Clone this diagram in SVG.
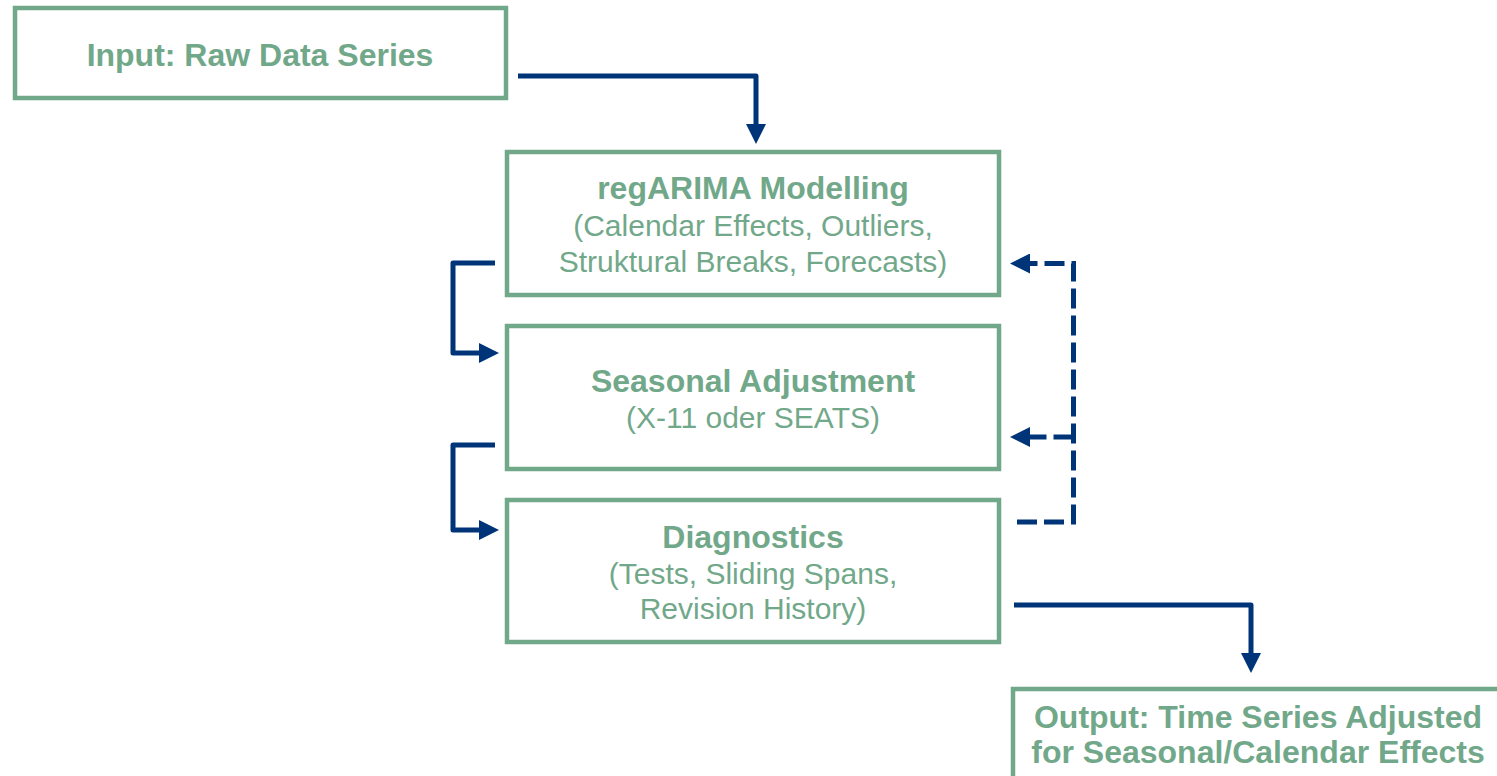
<svg xmlns="http://www.w3.org/2000/svg" width="1497" height="776" viewBox="0 0 1497 776">
  <style>
    .box { fill: #ffffff; stroke: #72A88A; stroke-width: 4.5; }
    .title { font-family: "Liberation Sans", Arial, sans-serif; font-weight: bold; font-size: 32px; fill: #72A88A; text-anchor: middle; }
    .sub { font-family: "Liberation Sans", Arial, sans-serif; font-size: 30px; fill: #72A88A; text-anchor: middle; }
    .flow { fill: none; stroke: #003478; stroke-width: 5; stroke-linejoin: round; }
    .dash { stroke-dasharray: 20 7; stroke-linejoin: miter; }
  </style>
  <defs>
    <marker id="head" viewBox="0 0 20 20" refX="0" refY="10" markerWidth="20" markerHeight="20" markerUnits="userSpaceOnUse" orient="auto">
      <path d="M0,0 L20,10 L0,20 Z" fill="#003478"/>
    </marker>
  </defs>

  <rect width="1497" height="776" fill="#ffffff"/>

  <!-- connectors -->
  <g id="connectors">
    <path class="flow" d="M518,76 H756 V124" marker-end="url(#head)"/>
    <path class="flow" d="M495,263 H453 V353 H479" marker-end="url(#head)"/>
    <path class="flow" d="M495,445 H453 V530 H479" marker-end="url(#head)"/>
    <path class="flow" d="M1014,605 H1251 V653" marker-end="url(#head)"/>
    <path class="flow dash" d="M1017,522 H1073.5 V263.5 H1030" marker-end="url(#head)"/>
    <path class="flow dash" d="M1073.5,437 H1030" marker-end="url(#head)"/>
  </g>

  <g id="input">
    <rect class="box" x="15" y="8" width="491" height="90"/>
    <text class="title" x="260" y="66">Input: Raw Data Series</text>
  </g>

  <g id="regarima">
    <rect class="box" x="507" y="152" width="492" height="143"/>
    <text class="title" x="753" y="199">regARIMA Modelling</text>
    <text class="sub" x="753" y="236">(Calendar Effects, Outliers,</text>
    <text class="sub" x="753" y="272">Struktural Breaks, Forecasts)</text>
  </g>

  <g id="seasonal">
    <rect class="box" x="507" y="326" width="492" height="143"/>
    <text class="title" x="753" y="392">Seasonal Adjustment</text>
    <text class="sub" x="753" y="428">(X-11 oder SEATS)</text>
  </g>

  <g id="diagnostics">
    <rect class="box" x="507" y="500" width="492" height="142"/>
    <text class="title" x="753" y="548">Diagnostics</text>
    <text class="sub" x="753" y="584">(Tests, Sliding Spans,</text>
    <text class="sub" x="753" y="619">Revision History)</text>
  </g>

  <g id="output">
    <rect class="box" x="1013" y="689" width="492" height="110"/>
    <text class="title" x="1258" y="728">Output: Time Series Adjusted</text>
    <text class="title" x="1258" y="763">for Seasonal/Calendar Effects</text>
  </g>
</svg>
